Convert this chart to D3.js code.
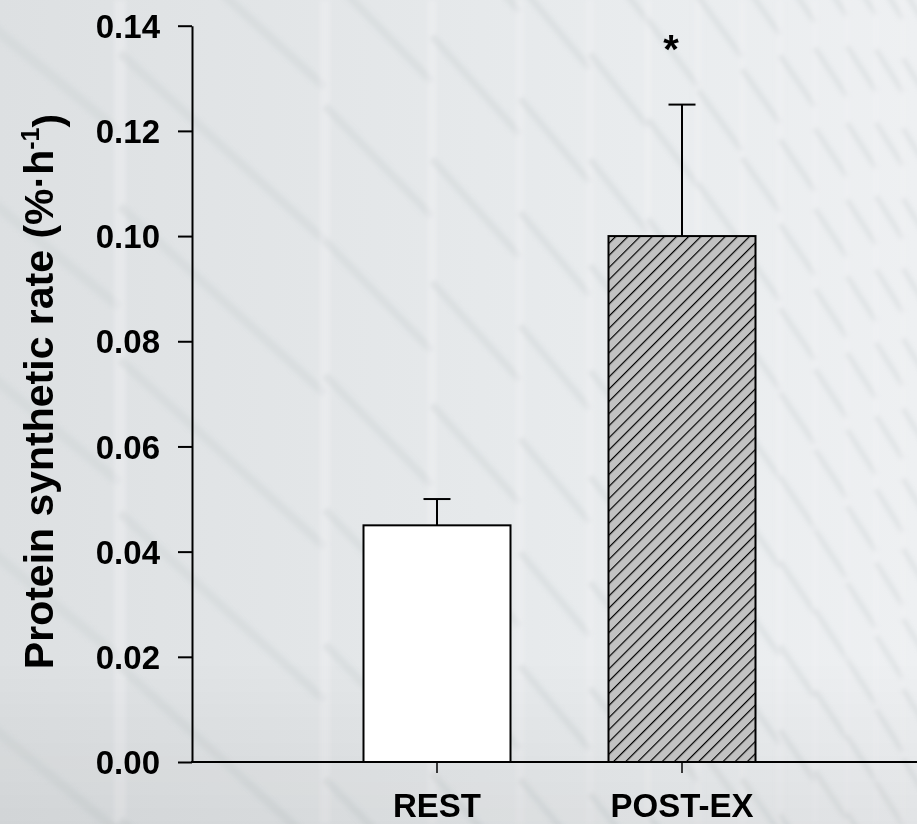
<!DOCTYPE html>
<html>
<head>
<meta charset="utf-8">
<script src="https://cdn.jsdelivr.net/npm/d3@7/dist/d3.min.js"></script>
<style>
  html, body { margin: 0; padding: 0; background: #e3e6e8; }
  svg { display: block; }
  text { font-family: "Liberation Sans", Arial, Helvetica, sans-serif; font-weight: bold; fill: #000; }
</style>
</head>
<body>
<svg id="chart" width="917" height="824"></svg>
<script>
// Group labels, mean rates and upper SE
const categories = ["REST", "POST-EX"];
const meanRates = [0.045, 0.100];
const errorUp = [0.005, 0.025];
const significance = ["", "*"];
const yTicks = [0.00, 0.02, 0.04, 0.06, 0.08, 0.10, 0.12, 0.14];

const W = 917, H = 824;
const svg = d3.select("#chart");
const defs = svg.append("defs");

// ---- glass facade backdrop ----
const bgGrad = defs.append("linearGradient").attr("id", "bgGrad")
  .attr("x1", 0).attr("y1", 0).attr("x2", 1).attr("y2", 0);
[["0", "#dde0e2"], ["0.35", "#e3e6e8"], ["0.7", "#e9ecee"], ["1", "#eef0f2"]]
  .forEach(([o, c]) => bgGrad.append("stop").attr("offset", o).attr("stop-color", c));
const shade = defs.append("linearGradient").attr("id", "shade")
  .attr("x1", 0).attr("y1", 0).attr("x2", 0).attr("y2", 1);
[["0", "#000", 0], ["0.8", "#000", 0], ["1", "#000", 0.05]]
  .forEach(([o, c, a]) => shade.append("stop").attr("offset", o).attr("stop-color", c).attr("stop-opacity", a));
defs.append("filter").attr("id", "soft").attr("x", "-5%").attr("y", "-5%").attr("width", "110%").attr("height", "110%")
  .append("feGaussianBlur").attr("stdDeviation", 2.2);

svg.append("rect").attr("width", W).attr("height", H).attr("fill", "url(#bgGrad)");

const facade = svg.append("g").attr("filter", "url(#soft)");
const mullionX = [-40, 120, 325, 432, 520, 590, 648, 698, 742, 780, 815, 847, 876, 903, 930, 960];
for (let i = 0; i < mullionX.length - 1; i++) {
  const x0 = mullionX[i], x1 = mullionX[i + 1];
  const t = Math.max(0, (x0 + x1) / 2) / W;
  const slope = 0.82 + 0.8 * Math.pow(t, 1.5);
  const gap = 180 - 110 * t;
  const lw = 10 - 5 * t;
  const phase = (i * 53) % gap;
  for (let y = -gap * 2 + phase; y < H + gap; y += gap) {
    facade.append("line")
      .attr("x1", x0).attr("y1", y)
      .attr("x2", x1).attr("y2", y + slope * (x1 - x0))
      .attr("stroke", "#cdd1d4").attr("stroke-opacity", 0.4)
      .attr("stroke-width", lw);
  }
  facade.append("rect")
    .attr("x", x1 - (12 - 7 * t) / 2).attr("y", 0)
    .attr("width", 12 - 7 * t).attr("height", H)
    .attr("fill", "#f2f3f4").attr("opacity", 0.4);
}
svg.append("rect").attr("width", W).attr("height", H).attr("fill", "url(#shade)");

// ---- hatch for the post-exercise bar ----
const hatch = defs.append("pattern").attr("id", "hatch")
  .attr("patternUnits", "userSpaceOnUse")
  .attr("width", 8.6).attr("height", 8.6)
  .attr("patternTransform", "rotate(45)");
hatch.append("rect").attr("width", 8.6).attr("height", 8.6).attr("fill", "#c2c2c2");
hatch.append("line").attr("x1", 0).attr("y1", 0).attr("x2", 0).attr("y2", 8.6)
  .attr("stroke", "#000").attr("stroke-width", 2.4);

// ---- scales ----
const axisX = 192, baseY = 762, topY = 25.7;
const y = d3.scaleLinear().domain([0, 0.14]).range([baseY, topY]);
const x = d3.scaleBand().domain(categories)
  .range([axisX + 122.5, axisX + 612.5])
  .paddingInner(0.4).paddingOuter(0.2);

const fills = ["#ffffff", "url(#hatch)"];

// bars
svg.append("g").selectAll("rect").data(categories).join("rect")
  .attr("x", d => x(d))
  .attr("y", (d, i) => y(meanRates[i]))
  .attr("width", x.bandwidth())
  .attr("height", (d, i) => baseY - y(meanRates[i]))
  .attr("fill", (d, i) => fills[i])
  .attr("stroke", "#000").attr("stroke-width", 2);

// upper error bars
const capHalf = 13.5;
const eb = svg.append("g").attr("stroke", "#000").attr("stroke-width", 2);
categories.forEach((c, i) => {
  const cx = x(c) + x.bandwidth() / 2;
  eb.append("line").attr("x1", cx).attr("x2", cx)
    .attr("y1", y(meanRates[i])).attr("y2", y(meanRates[i] + errorUp[i]));
  eb.append("line").attr("x1", cx - capHalf).attr("x2", cx + capHalf)
    .attr("y1", y(meanRates[i] + errorUp[i])).attr("y2", y(meanRates[i] + errorUp[i]));
});

// significance marker
svg.append("g").selectAll("text").data(categories).join("text")
  .attr("x", d => x(d) + x.bandwidth() / 2 - 11)
  .attr("y", (d, i) => y(meanRates[i] + errorUp[i]) - 42)
  .attr("text-anchor", "middle")
  .style("font-size", "40px")
  .text((d, i) => significance[i]);

// y axis
const yAxis = svg.append("g").attr("transform", `translate(${axisX},0)`)
  .call(d3.axisLeft(y).tickValues(yTicks).tickFormat(d3.format(".2f"))
    .tickSize(14).tickSizeOuter(0).tickPadding(18));
yAxis.select(".domain").attr("stroke", "#000").attr("stroke-width", 2);
yAxis.selectAll(".tick line").attr("stroke", "#000").attr("stroke-width", 2);
yAxis.selectAll(".tick text")
  .attr("dy", "0.35em")
  .style("font-size", "33px").style("font-family", "'Liberation Sans', Arial, sans-serif").style("font-weight", "bold");

// x axis
const xAxis = svg.append("g").attr("transform", `translate(0,${baseY})`)
  .call(d3.axisBottom(x).tickSize(11).tickSizeOuter(0));
xAxis.select(".domain").remove();
xAxis.selectAll(".tick line").attr("stroke", "#000").attr("stroke-width", 1.5);
xAxis.selectAll(".tick text")
  .attr("y", 55).attr("dy", 0)
  .style("font-size", "33px").style("font-family", "'Liberation Sans', Arial, sans-serif").style("font-weight", "bold");
svg.append("line").attr("x1", axisX - 1).attr("x2", W)
  .attr("y1", baseY).attr("y2", baseY)
  .attr("stroke", "#000").attr("stroke-width", 2);

// y axis title
const title = svg.append("text")
  .attr("transform", "translate(53,391.5) rotate(-90)")
  .attr("text-anchor", "middle")
  .style("font-size", "41px");
title.append("tspan").text("Protein synthetic rate (%\u00B7h");
title.append("tspan").attr("dy", "-0.55em").style("font-size", "25px").text("-1");
title.append("tspan").attr("dy", "0.55em").text(")");
</script>
</body>
</html>
